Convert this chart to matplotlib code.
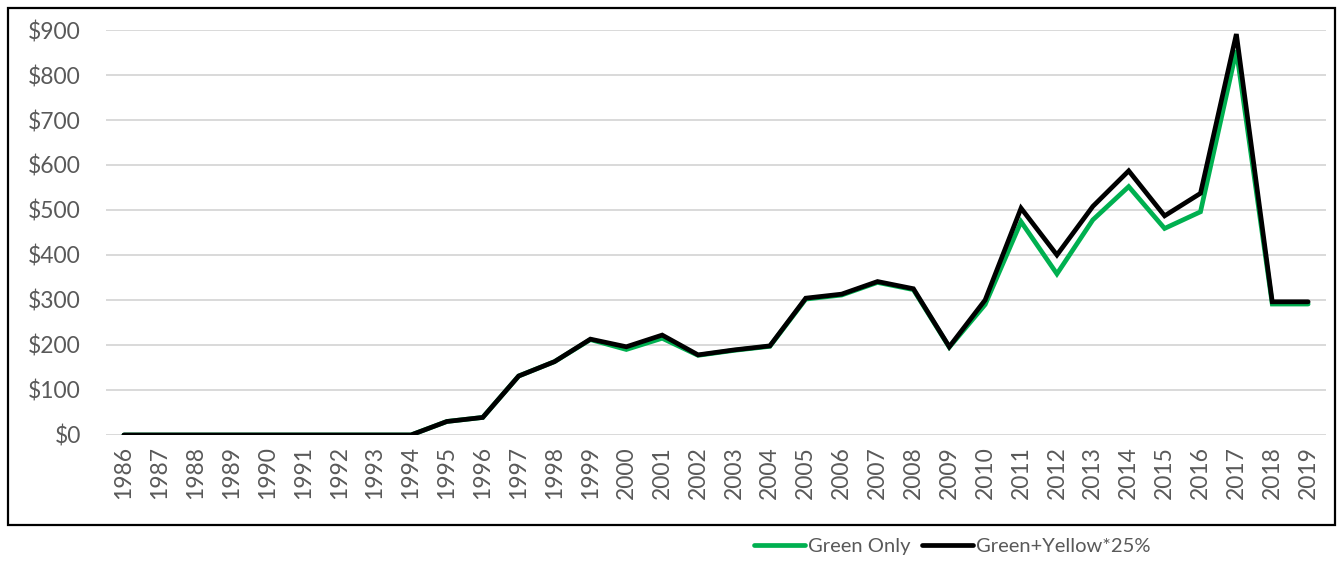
import matplotlib
matplotlib.use("Agg")
import matplotlib.pyplot as plt
from matplotlib.patches import Rectangle
from matplotlib.ticker import FuncFormatter

years = list(range(1986, 2020))

green_only = [0, 0, 0, 0, 0, 0, 0, 0, 0, 30, 39, 131, 163, 212, 190, 215,
              177, 188, 197, 302, 311, 339, 323, 195, 290, 474, 358, 478,
              552, 459, 496, 855, 291, 291]

green_yellow = [0, 0, 0, 0, 0, 0, 0, 0, 0, 30, 39, 131, 163, 213, 196, 222,
                178, 189, 198, 304, 313, 341, 325, 196, 300, 504, 400, 508,
                587, 487, 537, 891, 296, 296]

GREEN = '#00B050'
TEXT = '#595959'

plt.rcParams['font.family'] = ['Lato', 'DejaVu Sans']

fig = plt.figure(figsize=(13.43, 5.63), dpi=100)
ax = fig.add_axes([0.0789, 0.2274, 0.9085, 0.7193])

x = list(range(len(years)))
ax.plot(x, green_only, color=GREEN, lw=3.4, solid_joinstyle='miter',
        solid_capstyle='round', label='Green Only', zorder=3)
ax.plot(x, green_yellow, color='black', lw=3.4, solid_joinstyle='miter',
        solid_capstyle='round', label='Green+Yellow*25%', zorder=4)

ax.set_xlim(-0.5, len(years) - 0.5)
ax.set_ylim(0, 900)
ax.set_yticks(range(0, 1000, 100))
ax.yaxis.set_major_formatter(FuncFormatter(lambda v, p: '${:.0f}'.format(v)))
ax.set_xticks(x)
ax.set_xticklabels([str(y) for y in years], rotation=90)

ax.grid(axis='y', color='#D9D9D9', lw=1.4)
ax.set_axisbelow(True)
for s in ax.spines.values():
    s.set_visible(False)
ax.tick_params(axis='y', length=0, pad=18, labelsize=16.5, labelcolor=TEXT)
ax.tick_params(axis='x', length=0, pad=8, labelsize=16.5, labelcolor=TEXT)

# chart border
fig.patches.append(Rectangle((0.006, 0.0675), 0.988, 0.918,
                             transform=fig.transFigure, fill=False,
                             edgecolor='black', lw=1.6))

fig.legend(loc='center', bbox_to_anchor=(0.709, 0.030), ncol=2,
           frameon=False, fontsize=14.5, handlelength=2.5, handletextpad=0.15,
           columnspacing=0.6, labelcolor=TEXT)

fig.savefig('out.png', dpi=100)
